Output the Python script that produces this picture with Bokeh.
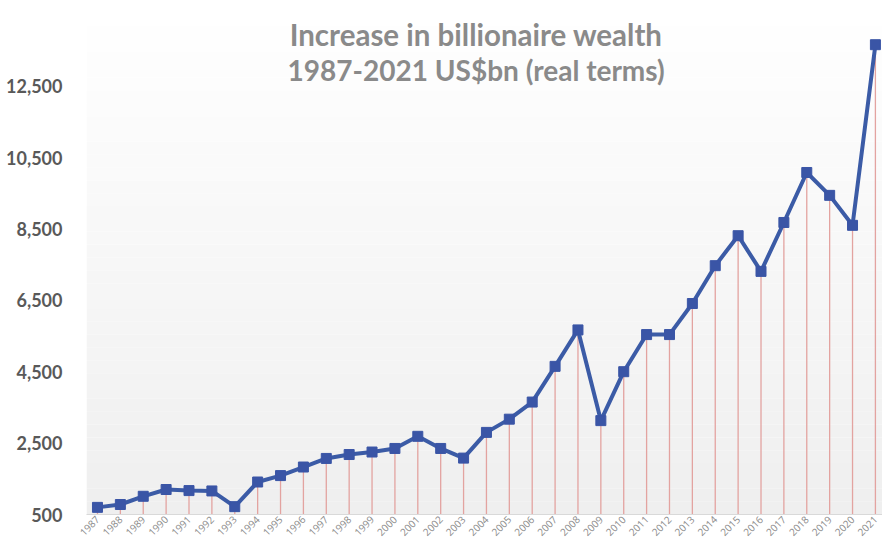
from bokeh.plotting import figure
from bokeh.models import FixedTicker, NumeralTickFormatter, BoxAnnotation, Label, Range1d, ColumnDataSource
from bokeh.embed import file_html
from bokeh.resources import INLINE
import math

# ---- data ----
years = list(range(1987, 2022))
wealth = [700, 780, 1010, 1200, 1170, 1160, 720, 1410, 1590, 1830,
          2070, 2180, 2250, 2350, 2690, 2350, 2080, 2800, 3170, 3650,
          4650, 5670, 3130, 4500, 5540, 5540, 6410, 7470, 8310, 7310,
          8680, 10080, 9440, 8600, 13660]
y_ticks = [500, 2500, 4500, 6500, 8500, 10500, 12500]
title_lines = ["Increase in billionaire wealth", "1987-2021 US$bn (real terms)"]
baseline = 500

# ---- figure ----
X0, X1 = 1986.52, 2021.31
Y0, Y1 = 500, 14898
p = figure(width=882, height=550, output_backend="svg", toolbar_location=None,
           x_range=Range1d(X0, X1), y_range=Range1d(Y0, Y1),
           min_border_left=86, min_border_right=0, min_border_top=0, min_border_bottom=36)
p.outline_line_color = None
p.background_fill_color = "white"
p.border_fill_color = "white"
p.xgrid.grid_line_color = None
p.ygrid.grid_line_color = None

# vertical gradient background (white top -> light gray bottom)
n_bands = 40
for i in range(n_bands):
    b = Y0 + (Y1 - Y0) * i / n_bands
    t = Y0 + (Y1 - Y0) * (i + 1) / n_bands
    frac = i / (n_bands - 1)
    g = int(round(239 + (255 - 239) * frac))
    p.add_layout(BoxAnnotation(bottom=b, top=t, fill_color=f"#{g:02x}{g:02x}{g:02x}",
                               fill_alpha=1.0, line_color=None, level="underlay"))

src = ColumnDataSource(dict(x=years, y=wealth, y0=[baseline] * len(years)))

# stems
p.segment(x0="x", y0="y0", x1="x", y1="y", source=src, line_color="#e3a3a0", line_width=1.3)
# line + markers
p.line(x="x", y="y", source=src, line_color="#3b5ba6", line_width=4)
p.scatter(x="x", y="y", source=src, marker="square", size=10,
          fill_color="#3a55a6", line_color="#3a55a6")

# axes
p.xaxis.ticker = FixedTicker(ticks=years)
p.xaxis.major_label_orientation = math.pi / 4
p.xaxis.major_label_text_font = "Open Sans"
p.xaxis.major_label_text_font_size = "10px"
p.xaxis.major_label_text_color = "#8a8a8a"
p.xaxis.major_tick_line_color = None
p.xaxis.major_tick_out = 0
p.xaxis.major_tick_in = 0
p.xaxis.minor_tick_line_color = None
p.xaxis.minor_tick_out = 0
p.xaxis.minor_tick_in = 0
p.xaxis.axis_line_color = "#d9d9d9"
p.xaxis.axis_line_width = 1
p.xaxis.major_label_standoff = 3

p.yaxis.ticker = FixedTicker(ticks=y_ticks)
p.yaxis.formatter = NumeralTickFormatter(format="0,0")
p.yaxis.major_label_text_font = "Lato"
p.yaxis.major_label_text_font_style = "bold"
p.yaxis.major_label_text_font_size = "18px"
p.yaxis.major_label_text_color = "#595959"
p.yaxis.major_tick_line_color = None
p.yaxis.major_tick_out = 0
p.yaxis.major_tick_in = 0
p.yaxis.minor_tick_line_color = None
p.yaxis.minor_tick_out = 0
p.yaxis.minor_tick_in = 0
p.yaxis.axis_line_color = None
p.yaxis.major_label_standoff = 24

# title as two labels inside the plot area
x_mid = 2003.55
p.add_layout(Label(x=x_mid, y=13945, text=title_lines[0], text_align="center",
                   text_baseline="alphabetic", text_font="Lato", text_font_style="bold",
                   text_font_size="29.5px", text_color="#8a8a8a"))
p.add_layout(Label(x=x_mid, y=12965, text=title_lines[1], text_align="center",
                   text_baseline="alphabetic", text_font="Lato", text_font_style="bold",
                   text_font_size="28px", text_color="#8a8a8a"))

open("out.html", "w").write(file_html(p, INLINE))
